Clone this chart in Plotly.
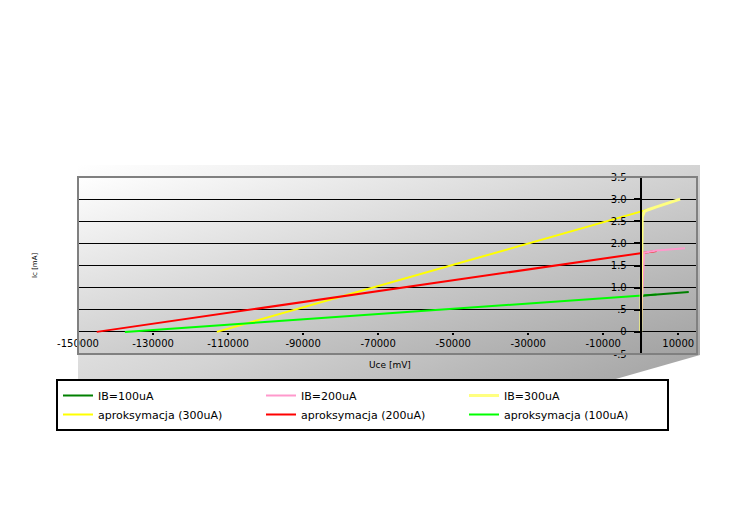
import base64
import plotly.graph_objects as go

# ---------------- data ----------------
x_ib100 = [0, 300, 1000, 4200, 8000, 12800]
y_ib100 = [0, 0.80, 0.82, 0.845, 0.87, 0.90]

x_ib200 = [0, 750, 900, 4200, 8000, 11800]
y_ib200 = [0, 1.59, 1.79, 1.84, 1.87, 1.89]

x_ib300 = [0, 400, 1000, 2000, 4000, 6000, 8000, 10500]
y_ib300 = [0, 2.60, 2.72, 2.76, 2.82, 2.88, 2.94, 3.00]

x_apr300 = [-113000, 4200]
y_apr300 = [0, 2.82]

x_apr200 = [-145000, 4200]
y_apr200 = [0, 1.83]

x_apr100 = [-137500, 4200]
y_apr100 = [0, 0.845]

x_tickvals = [-150000, -130000, -110000, -90000, -70000, -50000, -30000, -10000, 10000]
x_ticktext = ["-150000", "-130000", "-110000", "-90000", "-70000", "-50000", "-30000", "-10000", "10000"]
y_tickvals = [-0.5, 0, 0.5, 1.0, 1.5, 2.0, 2.5, 3.0, 3.5]
y_ticktext = ["-.5", "0", ".5", "1.0", "1.5", "2.0", "2.5", "3.0", "3.5"]

X_RANGE = [-150000, 15000]
Y_RANGE = [-0.5, 3.5]

# ---------------- layout geometry ----------------
OFF = 8                      # page body margin
W, H = 734, 532
L, R = 78 - OFF, 37 + OFF
T, B = 177 - OFF, 178 + OFF
PW, PH = W - L - R, H - T - B

FONT = "DejaVu Sans"

def px(x):  # reference page x -> figure x
    return x - OFF

def py(y):
    return y - OFF

# background panel with diagonal gradient (decoration only)
poly = " ".join(f"{px(a)},{py(b)}" for a, b in [(78, 165), (700, 165), (700, 355), (500, 412), (78, 412)])
svg = f"""<svg xmlns='http://www.w3.org/2000/svg' width='{W}' height='{H}' viewBox='0 0 {W} {H}'>
<defs>
<linearGradient id='g1' x1='0' y1='0' x2='1' y2='1'>
<stop offset='0' stop-color='#ffffff'/><stop offset='0.5' stop-color='#d4d4d4'/><stop offset='1' stop-color='#9a9a9a'/>
</linearGradient>
<linearGradient id='g2' x1='0' y1='0' x2='1' y2='1'>
<stop offset='0' stop-color='#ffffff'/><stop offset='0.5' stop-color='#d0d0d0'/><stop offset='1' stop-color='#a2a2a2'/>
</linearGradient>
</defs>
<polygon points='{poly}' fill='url(#g1)'/>
<rect x='{L}' y='{T}' width='{PW}' height='{PH}' fill='url(#g2)'/>
</svg>"""
svg_uri = "data:image/svg+xml;base64," + base64.b64encode(svg.encode()).decode()

fig = go.Figure()

def add(x, y, name, color, width, rank):
    fig.add_trace(go.Scatter(x=x, y=y, mode="lines", name=name,
                             line=dict(color=color, width=width),
                             legendrank=rank, hoverinfo="skip"))

# approximations drawn first, measured data on top
add(x_apr300, y_apr300, "aproksymacja (300uA)", "#FFFF00", 2, 4)
add(x_apr200, y_apr200, "aproksymacja (200uA)", "#FF0000", 2, 5)
add(x_apr100, y_apr100, "aproksymacja (100uA)", "#00FF00", 2, 6)
add(x_ib100, y_ib100, "IB=100uA", "#008000", 2, 1)
add(x_ib200, y_ib200, "IB=200uA", "#FF99CC", 2, 2)
add(x_ib300, y_ib300, "IB=300uA", "#FFFF80", 3, 3)

x0_frac = (0 - X_RANGE[0]) / (X_RANGE[1] - X_RANGE[0])
y0_frac = (0 - Y_RANGE[0]) / (Y_RANGE[1] - Y_RANGE[0])

def fx(x):  # reference page x -> paper fraction
    return (px(x) - L) / PW

def fy(y):
    return (T + PH - py(y)) / PH

fig.update_layout(
    template="none",
    width=W, height=H,
    margin=dict(l=L, r=R, t=T, b=B, autoexpand=False),
    paper_bgcolor="white",
    plot_bgcolor="rgba(0,0,0,0)",
    font=dict(family=FONT, size=10, color="black"),
    showlegend=True,
    xaxis=dict(range=X_RANGE, anchor="free", position=y0_frac,
               tickvals=x_tickvals, ticktext=x_ticktext,
               ticks="outside", ticklen=2, tickwidth=2, tickcolor="black",
               showgrid=False, zeroline=False, showline=False,
               tickfont=dict(family=FONT, size=10, color="black"),
               fixedrange=True),
    yaxis=dict(range=Y_RANGE, anchor="free", position=x0_frac,
               tickvals=y_tickvals, ticktext=y_ticktext,
               ticks="outside", ticklen=6, tickwidth=2, tickcolor="black",
               ticklabelstandoff=5,
               showline=True, linecolor="black", linewidth=2,
               showgrid=True, gridcolor="black", gridwidth=1,
               zeroline=False,
               tickfont=dict(family=FONT, size=10, color="black"),
               fixedrange=True),
    legend=dict(orientation="h", x=fx(56), y=fy(379),
                xanchor="left", yanchor="top",
                bgcolor="white", bordercolor="black", borderwidth=2,
                font=dict(family=FONT, size=11, color="black"),
                entrywidth=158, entrywidthmode="pixels", itemwidth=30,
                tracegroupgap=0, traceorder="normal"),
    images=[dict(source=svg_uri, xref="paper", yref="paper",
                 x=-L / PW, y=1 + T / PH, sizex=W / PW, sizey=H / PH,
                 xanchor="left", yanchor="top", sizing="stretch",
                 layer="below")],
    shapes=[dict(type="rect", xref="paper", yref="paper", x0=0, x1=1, y0=0, y1=1,
                 line=dict(color="#808080", width=2), fillcolor="rgba(0,0,0,0)")],
    annotations=[
        dict(text="Uce [mV]", xref="paper", yref="paper",
             x=fx(390), y=fy(365), showarrow=False,
             xanchor="center", yanchor="middle",
             font=dict(family=FONT, size=9, color="black")),
        dict(text="Ic [mA]", xref="paper", yref="paper",
             x=fx(35), y=fy(266), showarrow=False,
             xanchor="center", yanchor="middle", textangle=-90,
             font=dict(family=FONT, size=7, color="black")),
    ],
)

fig.write_html("out.html")
